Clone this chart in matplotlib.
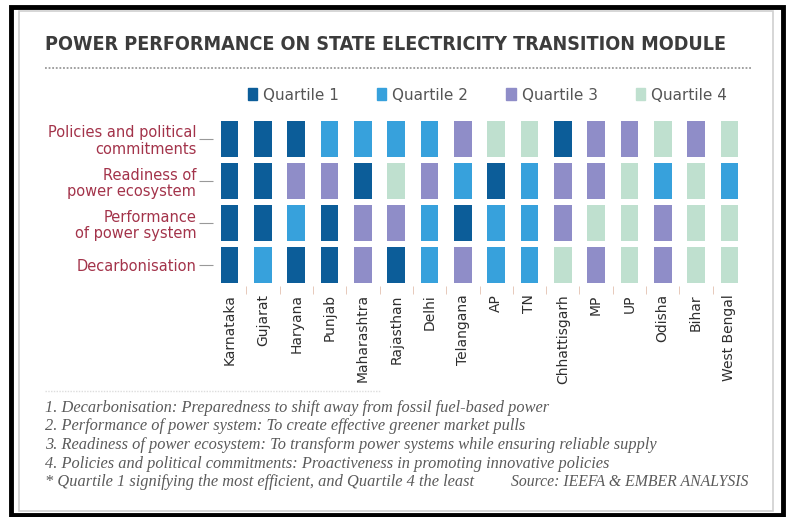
import matplotlib
matplotlib.use("Agg")
import matplotlib.pyplot as plt
import matplotlib.patches as mpatches
import numpy as np

# states (columns, left to right)
states = ["Karnataka", "Gujarat", "Haryana", "Punjab", "Maharashtra", "Rajasthan",
          "Delhi", "Telangana", "AP", "TN", "Chhattisgarh", "MP", "UP", "Odisha",
          "Bihar", "West Bengal"]

# parameters (rows, bottom to top)
params = ["Decarbonisation", "Performance\nof power system",
          "Readiness of\npower ecosystem", "Policies and political\ncommitments"]

# quartile of each state for each parameter
decarbonisation = [1, 2, 1, 1, 3, 1, 2, 3, 2, 2, 4, 3, 4, 3, 4, 4]
performance = [1, 1, 2, 1, 3, 3, 2, 1, 2, 2, 3, 4, 4, 3, 4, 4]
readiness = [1, 1, 3, 3, 1, 4, 3, 2, 1, 2, 3, 3, 4, 2, 4, 2]
policies = [1, 1, 1, 2, 2, 2, 2, 3, 4, 4, 1, 3, 3, 4, 3, 4]

quartile_labels = ["Quartile 1", "Quartile 2", "Quartile 3", "Quartile 4"]
quartile_colors = ["#0c5d99", "#37a1dc", "#8f8dc8", "#bfe0cf"]

title = "POWER PERFORMANCE ON STATE ELECTRICITY TRANSITION MODULE"
footnotes = [
    "1. Decarbonisation: Preparedness to shift away from fossil fuel-based power",
    "2. Performance of power system: To create effective greener market pulls",
    "3. Readiness of power ecosystem: To transform power systems while ensuring reliable supply",
    "4. Policies and political commitments: Proactiveness in promoting innovative policies",
    "* Quartile 1 signifying the most efficient, and Quartile 4 the least",
]
source = "Source: IEEFA & EMBER ANALYSIS"

SANS = "DejaVu Sans"
SERIF = ["Liberation Serif", "DejaVu Serif"]

W, H = 789, 517
fig = plt.figure(figsize=(W / 100, H / 100), dpi=100)
fig.patch.set_facecolor("white")


def fx(px):
    return px / W


def fy(py):
    return 1 - py / H


# frame: thick black outer border and light grey inner line
fig.add_artist(mpatches.Rectangle((fx(11), fy(515)), 772 / W, 508 / H,
                                  transform=fig.transFigure, fill=False,
                                  edgecolor="black", linewidth=3.5))
fig.add_artist(mpatches.Rectangle((fx(19), fy(511)), 754 / W, 500 / H,
                                  transform=fig.transFigure, fill=False,
                                  edgecolor="#d0d0d0", linewidth=1.2))

# title, sized to the width of the reference
t = fig.text(fx(45), fy(44), title, fontsize=20, fontweight="bold",
             fontstretch="condensed", color="#3c3c3c", family=SANS,
             ha="left", va="center")
renderer = fig.canvas.get_renderer()
tw = t.get_window_extent(renderer).width
t.set_fontsize(20 * 682 / tw)

fig.add_artist(plt.Line2D([fx(45), fx(752)], [fy(68), fy(68)],
                          transform=fig.transFigure, color="#9a9a9a",
                          linewidth=1.3, linestyle=(0, (1, 1))))

ax = fig.add_axes([fx(213), fy(286), 533 / W, 168 / H])
rows = [decarbonisation, performance, readiness, policies]
x = np.arange(len(states))
for i, row in enumerate(rows):
    cols = [quartile_colors[q - 1] for q in row]
    ax.bar(x, 0.88, bottom=i - 0.44, width=0.53, color=cols, linewidth=0)

ax.set_xlim(-0.5, len(states) - 0.5)
ax.set_ylim(-0.5, len(params) - 0.5)
for s in ax.spines.values():
    s.set_visible(False)

ax.set_yticks(range(len(params)))
ax.set_yticklabels(params, family=SANS, fontsize=10.5, color="#a3334a",
                   linespacing=1.1)
ax.tick_params(axis="y", length=10, width=0.8, color="#999999", pad=2)

ax.set_xticks(x)
ax.set_xticklabels(states, rotation=90, family=SANS, fontsize=10,
                   color="#2e2e2e", va="top")
ax.tick_params(axis="x", length=0, pad=6)
ax.set_xticks(x[:-1] + 0.5, minor=True)
ax.tick_params(axis="x", which="minor", length=6, width=0.6, color="#e3c0b0")

# legend
handles = [mpatches.Patch(color=c, label=l) for c, l in zip(quartile_colors, quartile_labels)]
leg = fig.legend(handles=handles, ncol=4, loc="center left",
                 bbox_to_anchor=(fx(240), fy(95)), frameon=False, borderpad=0,
                 handlelength=0.6, handleheight=0.85, handletextpad=0.4,
                 columnspacing=2.5, prop={"family": SANS, "size": 11})
for lt in leg.get_texts():
    lt.set_color("#555555")

# footnotes
fig.add_artist(plt.Line2D([fx(45), fx(380)], [fy(391), fy(391)],
                          transform=fig.transFigure, color="#dddddd",
                          linewidth=1, linestyle=(0, (1, 1))))
ys = [408, 426, 445, 464, 482]
for y, txt in zip(ys, footnotes):
    fig.text(fx(45), fy(y), txt, fontsize=11.8, style="italic", family=SERIF,
             color="#5a5a5a", ha="left", va="center")
fig.text(fx(748), fy(482), source, fontsize=11.3, style="italic", family=SERIF,
         color="#5a5a5a", ha="right", va="center")

fig.savefig("out.png", dpi=100, facecolor="white")
